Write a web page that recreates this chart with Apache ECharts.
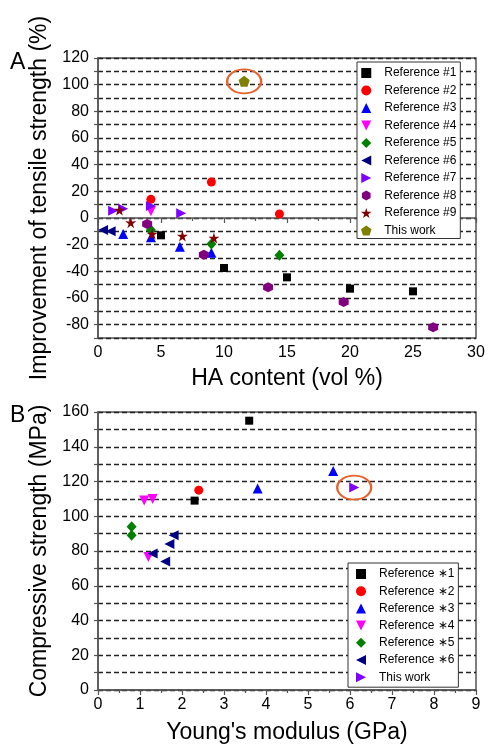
<!DOCTYPE html>
<html>
<head>
<meta charset="utf-8">
<script src="https://cdn.jsdelivr.net/npm/echarts@6/dist/echarts.min.js"></script>
<style>
  html, body { margin: 0; padding: 0; background: #fff; }
  #chart { width: 489px; height: 745px; }
</style>
</head>
<body>
<div id="chart"></div>
<script>
// panel A: HA content (vol %) vs improvement of tensile strength (%)
const namesA = [
  "Reference #1", "Reference #2", "Reference #3", "Reference #4", "Reference #5",
  "Reference #6", "Reference #7", "Reference #8", "Reference #9", "This work",
];
const ref1A = [[5, -13], [10, -37.5], [15, -44.5], [20, -53], [25, -55]];
const ref2A = [[4.2, 14], [9, 27], [14.4, 3]];
const ref3A = [[2, -12], [4.2, -14.5], [6.5, -21.5], [9, -26]];
const ref4A = [[4.2, 5]];
const ref5A = [[4.2, -9], [9, -19.5], [14.4, -28]];
const ref6A = [[0.4, -9], [1, -10]];
const ref7A = [[1.2, 5.5], [2, 7], [4.2, 9], [6.6, 3.5]];
const ref8A = [[3.9, -4.5], [8.4, -27.5], [13.5, -52], [19.5, -63], [26.6, -82]];
const ref9A = [[1.7, 6], [2.6, -3.5], [4.3, -12], [6.7, -13.5], [9.2, -15]];
const thisWorkA = [[11.6, 102.5]];

// panel B: Young's modulus (GPa) vs compressive strength (MPa)
const namesB = [
  "Reference \u22171", "Reference \u22172", "Reference \u22173",
  "Reference \u22174", "Reference \u22175", "Reference \u22176", "This work ",
];
const ref1B = [[2.3, 109], [3.6, 155]];
const ref2B = [[2.4, 115]];
const ref3B = [[3.8, 116], [5.6, 126]];
const ref4B = [[1.1, 109], [1.3, 110], [1.2, 76.5]];
const ref5B = [[0.8, 94], [0.8, 89]];
const ref6B = [[1.8, 89], [1.7, 84], [1.3, 78.5], [1.6, 74]];
const thisWorkB = [[6.1, 116.5]];

const FONT = '"Liberation Sans", Arial, sans-serif';
const AXIS_COLOR = "#555";

// path symbols keep their aspect in the legend, built-in ones get stretched
const SYM = {
  square: "path://M0,0 L10,0 L10,10 L0,10 Z",
  up: "path://M5,0 L10,10 L0,10 Z",
  down: "path://M0,0 L10,0 L5,10 Z",
  diamond: "path://M5,0 L10,5 L5,10 L0,5 Z",
  left: "path://M0,5 L10,0 L10,10 Z",
  right: "path://M0,0 L10,5 L0,10 Z",
  hexagon: "path://M5,0 L9.33,2.5 L9.33,7.5 L5,10 L0.67,7.5 L0.67,2.5 Z",
  star: "path://M50,0 L61.17,34.63 L97.55,34.55 L68.07,55.87 L79.39,90.45 L50,69 L20.61,90.45 L31.93,55.87 L2.45,34.55 L38.83,34.63 Z",
  pentagon: "path://M50,0 L97.55,34.55 L79.39,90.45 L20.61,90.45 L2.45,34.55 Z",
  ellipse: "path://M0,50 A50,30 0 1,1 100,50 A50,30 0 1,1 0,50 Z",
};

function scatter(name, data, symbol, color, size, idx) {
  return {
    name: name,
    type: "scatter",
    xAxisIndex: idx,
    yAxisIndex: idx,
    data: data,
    symbol: symbol,
    symbolSize: size,
    itemStyle: { color: color, opacity: 1 },
    emphasis: { disabled: true },
  };
}

function circled(series, data) {
  series.markPoint = {
    silent: true,
    symbol: SYM.ellipse,
    symbolSize: [34, 24],
    itemStyle: { color: "transparent", borderColor: "#E8632B", borderWidth: 2 },
    label: { show: false },
    data: [{ coord: data[0] }],
  };
  return series;
}

function xAxis(idx, max, interval, name, gap) {
  return {
    type: "value",
    gridIndex: idx,
    min: 0,
    max: max,
    interval: interval,
    name: name,
    nameLocation: "middle",
    nameGap: gap,
    nameTextStyle: { fontSize: 23, color: "#000", fontFamily: FONT },
    axisLine: { lineStyle: { color: AXIS_COLOR, width: 1.5 } },
    axisTick: { length: 5, lineStyle: { color: AXIS_COLOR, width: 1.2 } },
    minorTick: { show: true, splitNumber: 2, length: 3, lineStyle: { color: AXIS_COLOR, width: 1.2 } },
    axisLabel: { fontSize: 16, color: "#000", fontFamily: FONT, margin: 7 },
    splitLine: { show: false },
  };
}

function yAxis(idx, min, max, name, gap) {
  return {
    type: "value",
    gridIndex: idx,
    min: min,
    max: max,
    interval: 10,
    name: name,
    nameLocation: "middle",
    nameRotate: 90,
    nameGap: gap,
    nameTextStyle: { fontSize: 23, color: "#000", fontFamily: FONT },
    axisLine: { lineStyle: { color: AXIS_COLOR, width: 1.5 } },
    axisTick: { length: 4, lineStyle: { color: AXIS_COLOR, width: 1.2 } },
    axisLabel: {
      fontSize: 16,
      color: "#000",
      fontFamily: FONT,
      margin: 9,
      formatter: (v) => (v % 20 === 0 ? String(v) : ""),
    },
    splitLine: {
      show: true,
      lineStyle: { color: "#222", type: [5, 3], width: 1.3 },
    },
  };
}

function legend(data, left, top, padding, gap) {
  return {
    orient: "vertical",
    left: left,
    top: top,
    data: data,
    padding: padding,
    itemGap: gap,
    itemWidth: 26,
    itemHeight: 10,
    backgroundColor: "#fff",
    borderColor: "#333",
    borderWidth: 1,
    textStyle: { fontSize: 12, lineHeight: 14, color: "#000", fontFamily: FONT },
  };
}

const option = {
  animation: false,
  backgroundColor: "#fff",
  textStyle: { fontFamily: FONT },
  title: [
    { text: "A", left: 10, top: 51, padding: 0, textStyle: { fontSize: 23, fontWeight: "normal", color: "#000", fontFamily: FONT } },
    { text: "B", left: 10, top: 404, padding: 0, textStyle: { fontSize: 23, fontWeight: "normal", color: "#000", fontFamily: FONT } },
  ],
  grid: [
    { left: 98, top: 58, width: 378, height: 280, show: true, borderColor: AXIS_COLOR, borderWidth: 1.5 },
    { left: 98, top: 412, width: 378, height: 280, show: true, borderColor: AXIS_COLOR, borderWidth: 1.5 },
  ],
  xAxis: [
    xAxis(0, 30, 5, "HA content (vol %)", 29),
    xAxis(1, 9, 1, "Young's modulus (GPa)", 31),
  ],
  yAxis: [
    yAxis(0, -90, 120, "Improvement of tensile strength (%)", 46),
    yAxis(1, 0, 160, "Compressive strength (MPa)", 45),
  ],
  legend: [
    legend(namesA, 357, 62, [4, 4, 1, 4], 3.5),
    legend(namesB, 348, 563, [4, 4, 3, 8], 3.2),
  ],
  series: [
    scatter(namesA[0], ref1A, SYM.square, "#000000", 8, 0),
    scatter(namesA[1], ref2A, "circle", "#ff0000", 9, 0),
    scatter(namesA[2], ref3A, SYM.up, "#0000ff", 10, 0),
    scatter(namesA[3], ref4A, SYM.down, "#ff00ff", 10, 0),
    scatter(namesA[4], ref5A, SYM.diamond, "#008000", [10, 11], 0),
    scatter(namesA[5], ref6A, SYM.left, "#000080", 10, 0),
    scatter(namesA[6], ref7A, SYM.right, "#8000ff", 10, 0),
    scatter(namesA[7], ref8A, SYM.hexagon, "#800080", 10, 0),
    scatter(namesA[8], ref9A, SYM.star, "#800000", 11, 0),
    circled(scatter(namesA[9], thisWorkA, SYM.pentagon, "#808000", 11, 0), thisWorkA),

    scatter(namesB[0], ref1B, SYM.square, "#000000", 8, 1),
    scatter(namesB[1], ref2B, "circle", "#ff0000", 9, 1),
    scatter(namesB[2], ref3B, SYM.up, "#0000ff", 10, 1),
    scatter(namesB[3], ref4B, SYM.down, "#ff00ff", 10, 1),
    scatter(namesB[4], ref5B, SYM.diamond, "#008000", [10, 11], 1),
    scatter(namesB[5], ref6B, SYM.left, "#000080", 10, 1),
    circled(scatter(namesB[6], thisWorkB, SYM.right, "#8000ff", 10, 1), thisWorkB),
  ],
};

const myChart = echarts.init(document.getElementById("chart"));
myChart.setOption(option);
</script>
</body>
</html>
